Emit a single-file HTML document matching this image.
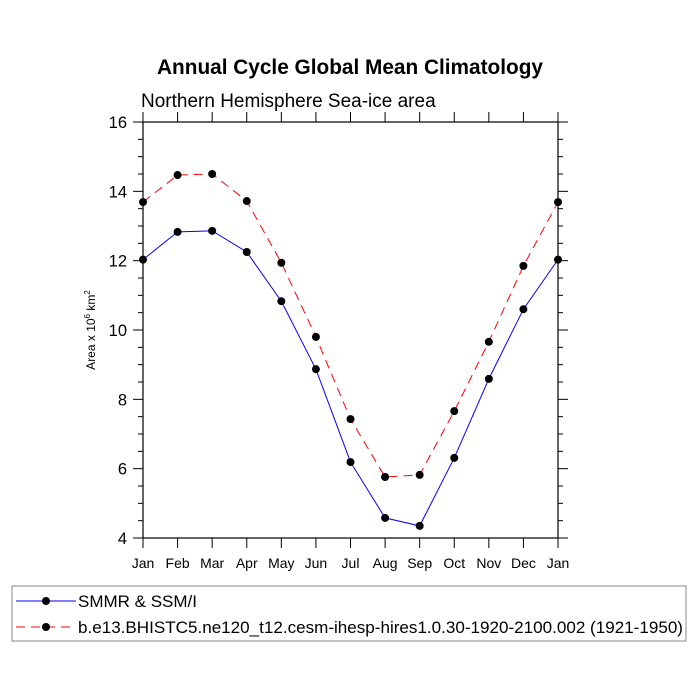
<!DOCTYPE html>
<html><head><meta charset="utf-8"><style>
html,body{margin:0;padding:0;background:#fff;}
svg{display:block;font-family:"Liberation Sans",sans-serif;}
</style></head><body>
<svg id="chart" width="700" height="700" viewBox="0 0 700 700">
<rect width="700" height="700" fill="#fff"/>
<text x="350" y="74" text-anchor="middle" font-size="20.8" font-weight="bold">Annual Cycle Global Mean Climatology</text>
<text x="141" y="107" font-size="19">Northern Hemisphere Sea-ice area</text>
<text transform="translate(95,330) rotate(-90)" text-anchor="middle" font-size="12">Area x 10<tspan font-size="8" dy="-5">6</tspan><tspan dy="5"> km</tspan><tspan font-size="8" dy="-5">2</tspan></text>
<g id="axes"></g>
<g id="series"></g>
<rect x="12" y="586" width="674" height="55" fill="none" stroke="#888" stroke-width="1"/>
<g>
<line x1="16" y1="601" x2="76" y2="601" stroke="#00f" stroke-width="1"/>
<circle cx="46" cy="601" r="4" fill="#000"/>
<text x="78" y="607" font-size="17">SMMR &amp; SSM/I</text>
</g>
<g>
<line x1="16" y1="627" x2="76" y2="627" stroke="#f00" stroke-width="1" stroke-dasharray="9,6"/>
<circle cx="46" cy="627" r="4" fill="#000"/>
<text x="78" y="633" font-size="17" textLength="605" lengthAdjust="spacingAndGlyphs">b.e13.BHISTC5.ne120_t12.cesm-ihesp-hires1.0.30-1920-2100.002 (1921-1950)</text>
</g>
</svg>
<script>
const months = ["Jan","Feb","Mar","Apr","May","Jun","Jul","Aug","Sep","Oct","Nov","Dec","Jan"];
const obsValues = [12.03,12.83,12.86,12.25,10.83,8.87,6.19,4.58,4.35,6.31,8.59,10.6,12.03];
const modelValues = [13.69,14.47,14.5,13.72,11.94,9.8,7.43,5.76,5.82,7.66,9.66,11.85,13.69];
const yTicks = [4,6,8,10,12,14,16];

const NS="http://www.w3.org/2000/svg";
const X0=143,X1=558,Y0=538,Y1=122,YMIN=4,YMAX=16;
const xs=i=>X0+(X1-X0)*i/(months.length-1);
const ys=v=>Y0-(Y0-Y1)*(v-YMIN)/(YMAX-YMIN);
function mk(t,a,p){const e=document.createElementNS(NS,t);for(const k in a)e.setAttribute(k,a[k]);p.appendChild(e);return e;}
const ax=document.getElementById('axes');
const frame=mk('rect',{x:X0,y:Y1,width:X1-X0,height:Y0-Y1,fill:'none',stroke:'#000','stroke-width':1.2},ax);


months.forEach((m,i)=>{
  const x=xs(i);
  mk('line',{x1:x,y1:Y0,x2:x,y2:Y0+10,stroke:'#000'},ax);
  mk('line',{x1:x,y1:Y1,x2:x,y2:Y1-10,stroke:'#000'},ax);
  const t=mk('text',{x:x,y:Y0+30,'text-anchor':'middle','font-size':14},ax);
  t.textContent=m;
  
  
});
for(let v=YMIN;v<=YMAX+1e-9;v+=0.5){
  const y=ys(v),maj=Math.abs(v%2)<1e-9,len=maj?10:5;
  mk('line',{x1:X0,y1:y,x2:X0-len,y2:y,stroke:'#000'},ax);
  mk('line',{x1:X1,y1:y,x2:X1+len,y2:y,stroke:'#000'},ax);
}
yTicks.forEach(v=>{
  const t=mk('text',{x:X0-16,y:ys(v)+6,'text-anchor':'end','font-size':16.5},ax);
  t.textContent=v;
  
  
});
const sg=document.getElementById('series');
function series(vals,color,dash,name){
  const g=mk('g',{},sg);
  
  
  const a={points:vals.map((v,i)=>xs(i)+','+ys(v)).join(' '),fill:'none',stroke:color,'stroke-width':1};
  if(dash)a['stroke-dasharray']=dash;
  mk('polyline',a,g);
  vals.forEach((v,i)=>{
    const c=mk('circle',{cx:xs(i),cy:ys(v),r:4,fill:'#000'},g);
    
    
  });
}
series(obsValues,'#00f',null,'observed-series');
series(modelValues,'#f00','9,6','model-series');
</script>
</body></html>
